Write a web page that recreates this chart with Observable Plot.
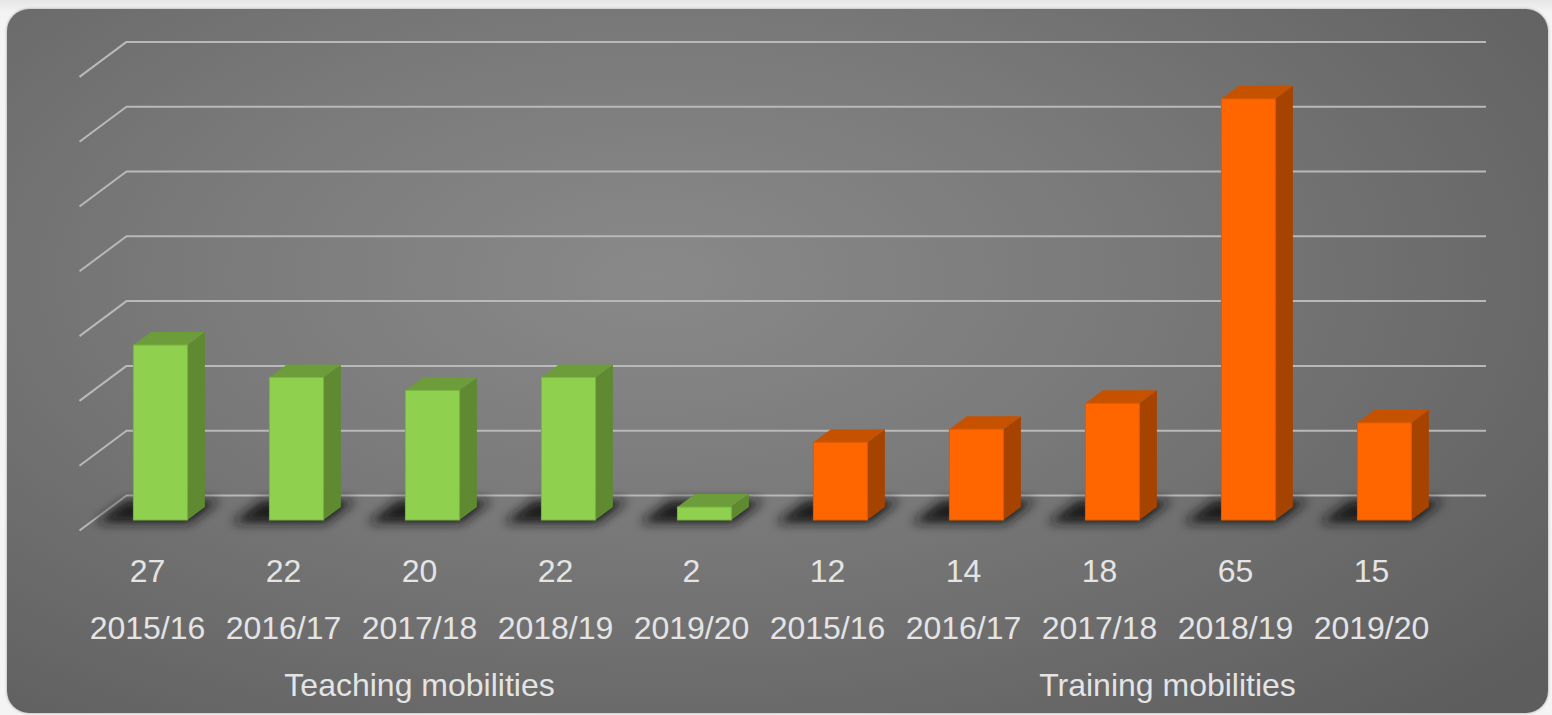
<!DOCTYPE html>
<html>
<head>
<meta charset="utf-8">
<script src="https://cdn.jsdelivr.net/npm/d3@7"></script>
<script src="https://cdn.jsdelivr.net/npm/@observablehq/plot@0.6"></script>
<style>
  html, body { margin: 0; padding: 0; background: #f4f4f4; }
  #wrap { position: relative; width: 1552px; height: 715px; overflow: hidden;
          background: linear-gradient(#e6e6e6, #f4f4f4 12px); }
  #panel { position: absolute; left: 7px; top: 9px; width: 1541px; height: 704px; border-radius: 22px;
           background: radial-gradient(ellipse 75% 85% at 42% 38%, #898989 0%, #7a7a7a 40%, #5d5d5d 100%);
           box-shadow: 0 0 3px rgba(0,0,0,0.35); }
  #chart { position: absolute; left: 0; top: 0; }
</style>
</head>
<body>
<div id="wrap"><div id="panel"></div><div id="chart"></div></div>
<script>
// ---- data ----
const categories = ["2015/16", "2016/17", "2017/18", "2018/19", "2019/20",
                    "2015/16", "2016/17", "2017/18", "2018/19", "2019/20"];
const teachingValues = [27, 22, 20, 22, 2];
const trainingValues = [12, 14, 18, 65, 15];
const groupNames = ["Teaching mobilities", "Training mobilities"];
const gridTicks = [0, 10, 20, 30, 40, 50, 60, 70];

// ---- layout ----
const W = 1552, H = 715, mL = 79, mR = 113, mT = 76.4, mB = 185;
const pxX = (W - mL - mR) / 10;   // px per x unit
const pxY = (H - mT - mB) / 70;   // px per y unit
const DX = 47 / pxX, DY = 35 / pxY; // floor depth in data units
const tf = 10 / 35, tb = 23 / 35;   // bar front / back depth fraction
const halfW = 27 / pxX;
const groupX = [2, 7.5];

const colors = {
  teaching: {front: "#8fd14f", side: "#5f8a31", top: "#6d9c3b", edge: "#79b53f"},
  training: {front: "#ff6600", side: "#a64300", top: "#c65200", edge: "#e05a00"}
};

const bars = categories.map((c, i) => ({
  i, cat: c,
  v: i < 5 ? teachingValues[i] : trainingValues[i - 5],
  g: i < 5 ? "teaching" : "training"
}));

const depthPts = (ts) => bars.flatMap(b => ts.map(t => ({...b, t})));
const sidePts = depthPts([tf, tb]);
const shadowPts = depthPts([0.2, 0.85]);

function barMarks(g) {
  const c = colors[g];
  const f = d => d.g === g;
  return [
    Plot.areaY(sidePts.filter(f), {
      x: d => d.i + halfW + DX * d.t, y1: d => DY * d.t, y2: d => d.v + DY * d.t,
      z: "i", fill: c.side, curve: "linear"
    }),
    Plot.areaX(sidePts.filter(f), {
      y: d => d.v + DY * d.t, x1: d => d.i - halfW + DX * d.t, x2: d => d.i + halfW + DX * d.t,
      z: "i", fill: c.top, curve: "linear"
    }),
    Plot.rect(bars.filter(f), {
      x1: d => d.i - halfW + DX * tf, x2: d => d.i + halfW + DX * tf,
      y1: DY * tf, y2: d => d.v + DY * tf,
      fill: c.front, stroke: c.edge, strokeWidth: 1
    })
  ];
}

const textStyle = {fontSize: 32, fill: "#e4e4e4", fontFamily: "Liberation Sans, Arial, sans-serif"};

const plot = Plot.plot({
  width: W, height: H,
  marginLeft: mL, marginRight: mR, marginTop: mT, marginBottom: mB,
  x: {domain: [-0.5, 9.5], axis: null},
  y: {domain: [0, 70], axis: null},
  style: {background: "transparent", fontFamily: "Liberation Sans, Arial, sans-serif", overflow: "visible"},
  marks: [
    Plot.ruleY(gridTicks, {y: d => d + DY, x1: -0.5 + DX, x2: 9.5 + DX, stroke: "#b9b9b9", strokeWidth: 2}),
    Plot.link(gridTicks, {x1: -0.5, y1: d => d, x2: -0.5 + DX, y2: d => d + DY, stroke: "#b9b9b9", strokeWidth: 2}),
    Plot.areaX(shadowPts, {
      y: d => DY * d.t,
      x1: d => d.i - halfW - 34 / pxX + DX * d.t,
      x2: d => d.i + halfW + 6 / pxX + DX * d.t,
      z: "i", fill: "#151515", fillOpacity: 0.95, curve: "linear"
    }),
    ...barMarks("teaching"),
    ...barMarks("training"),
    Plot.text(bars, {x: "i", y: 0, text: d => String(d.v), dy: 41, ...textStyle}),
    Plot.text(bars, {x: "i", y: 0, text: "cat", dy: 98, ...textStyle}),
    Plot.text(groupNames, {x: (d, j) => groupX[j], y: 0, text: d => d, dy: 155, ...textStyle})
  ]
});

// soft blur for the floor shadows
const svg = d3.select(plot);
const defs = svg.insert("defs", ":first-child");
defs.append("filter").attr("id", "shadowBlur").attr("x", "-20%").attr("y", "-50%").attr("width", "140%").attr("height", "200%")
  .append("feGaussianBlur").attr("stdDeviation", 5.5);
svg.selectAll('g[fill="#151515"]').attr("filter", "url(#shadowBlur)");

document.getElementById("chart").appendChild(plot);
</script>
</body>
</html>
